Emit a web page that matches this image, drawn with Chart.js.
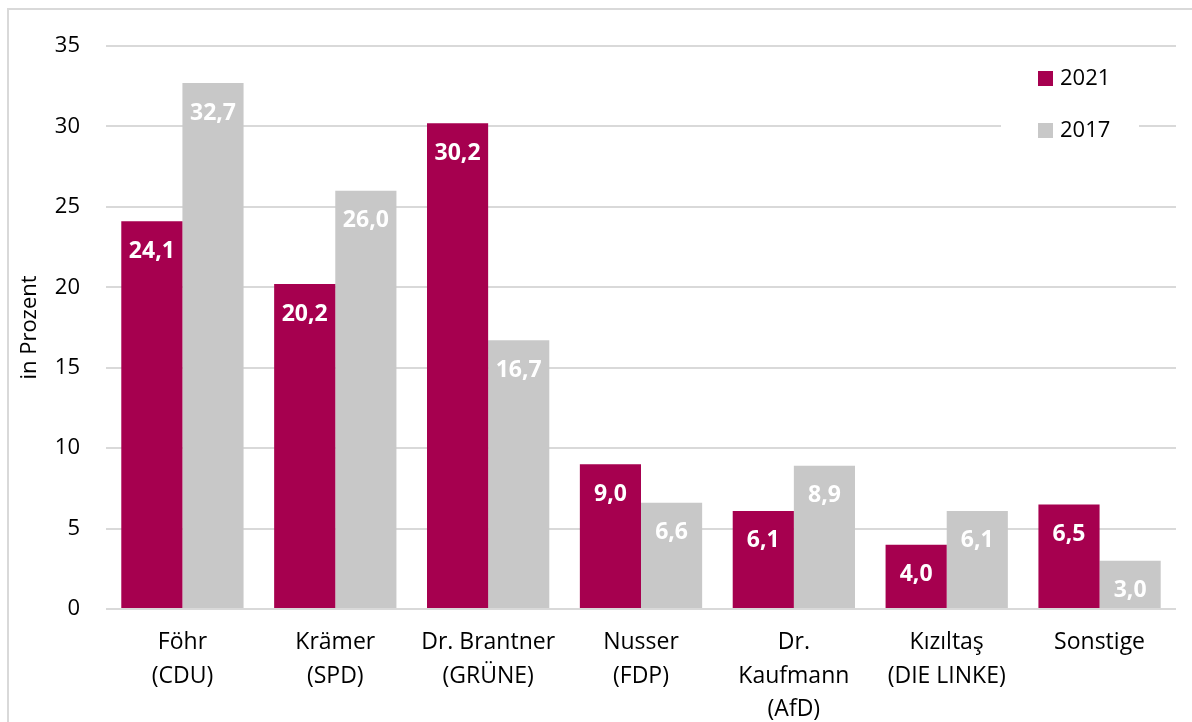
<!DOCTYPE html>
<html>
<head>
<meta charset="utf-8">
<script src="https://cdn.jsdelivr.net/npm/chart.js@4.4.0/dist/chart.umd.min.js"></script>
<style>
  html, body { margin: 0; padding: 0; background: #ffffff; }
  #wrap { width: 1192px; height: 722px; position: relative; }
</style>
</head>
<body>
<div id="wrap"><canvas id="c" width="1192" height="722"></canvas></div>
<script>
const categories = [
  ["Föhr", "(CDU)"],
  ["Krämer", "(SPD)"],
  ["Dr. Brantner", "(GRÜNE)"],
  ["Nusser", "(FDP)"],
  ["Dr.", "Kaufmann", "(AfD)"],
  ["Kızıltaş", "(DIE LINKE)"],
  ["Sonstige"]
];
const seriesNames = ["2021", "2017"];
const values2021 = [24.1, 20.2, 30.2, 9.0, 6.1, 4.0, 6.5];
const values2017 = [32.7, 26.0, 16.7, 6.6, 8.9, 6.1, 3.0];
const yTicks = [0, 5, 10, 15, 20, 25, 30, 35];
const yTitle = "in Prozent";

const RED = "#A6004F";
const GRAY = "#C8C8C8";
const FONT = "'Open Sans', 'Noto Sans', sans-serif";

const frame = {
  id: 'frame',
  beforeDraw(chart) {
    const ctx = chart.ctx;
    ctx.save();
    ctx.fillStyle = '#ffffff';
    ctx.fillRect(0, 0, chart.width, chart.height);
    ctx.strokeStyle = '#d9d9d9';
    ctx.lineWidth = 2;
    ctx.strokeRect(8, 9, 1300, 900);
    ctx.restore();
  }
};

const valueLabels = {
  id: 'valueLabels',
  afterDatasetsDraw(chart) {
    const ctx = chart.ctx;
    ctx.save();
    ctx.font = "bold 23px " + FONT;
    ctx.fillStyle = '#ffffff';
    ctx.textAlign = 'center';
    ctx.textBaseline = 'middle';
    chart.data.datasets.forEach((ds, i) => {
      const meta = chart.getDatasetMeta(i);
      meta.data.forEach((bar, j) => {
        const v = ds.data[j];
        const txt = v.toFixed(1).replace('.', ',');
        ctx.fillText(txt, bar.x, bar.y + 30);
      });
    });
    ctx.restore();
  }
};

const customLegend = {
  id: 'customLegend',
  afterDraw(chart) {
    const ctx = chart.ctx;
    ctx.save();
    ctx.fillStyle = '#ffffff';
    ctx.fillRect(1001, 56, 138, 100);
    ctx.font = "22px " + FONT;
    ctx.textBaseline = 'middle';
    ctx.textAlign = 'left';
    chart.data.datasets.forEach((ds, i) => {
      const y = 79 + i * 52;
      ctx.fillStyle = ds.backgroundColor;
      ctx.fillRect(1038, y - 8, 15, 15);
      ctx.fillStyle = '#000000';
      ctx.fillText(ds.label, 1060, y);
    });
    ctx.restore();
  }
};

new Chart(document.getElementById('c'), {
  type: 'bar',
  data: {
    labels: categories,
    datasets: [
      { label: seriesNames[0], data: values2021, backgroundColor: RED, categoryPercentage: 0.8, barPercentage: 1.0 },
      { label: seriesNames[1], data: values2017, backgroundColor: GRAY, categoryPercentage: 0.8, barPercentage: 1.0 }
    ]
  },
  options: {
    responsive: false,
    animation: false,
    devicePixelRatio: 1,
    layout: { padding: { left: 0, right: 16, top: 46, bottom: 0 } },
    plugins: {
      legend: { display: false },
      tooltip: { enabled: false }
    },
    scales: {
      x: {
        grid: { display: false, drawTicks: false },
        border: { display: false },
        ticks: {
          color: '#000000',
          font: { family: FONT, size: 23, lineHeight: 1.45 },
          padding: 17,
          maxRotation: 0,
          autoSkip: false
        },
        afterFit(scale) { scale.height = 113; }
      },
      y: {
        min: 0,
        max: 35,
        afterBuildTicks(scale) { scale.ticks = yTicks.map(v => ({ value: v })); },
        grid: { color: '#d9d9d9', lineWidth: 2, drawTicks: false },
        border: { display: false },
        ticks: {
          color: '#000000',
          font: { family: FONT, size: 22 },
          padding: 26
        },
        title: {
          display: true,
          text: yTitle,
          color: '#000000',
          font: { family: FONT, size: 22 },
          padding: { top: 17, bottom: 0 }
        },
        afterFit(scale) { scale.width = 106; }
      }
    }
  },
  plugins: [frame, valueLabels, customLegend]
});
</script>
</body>
</html>
